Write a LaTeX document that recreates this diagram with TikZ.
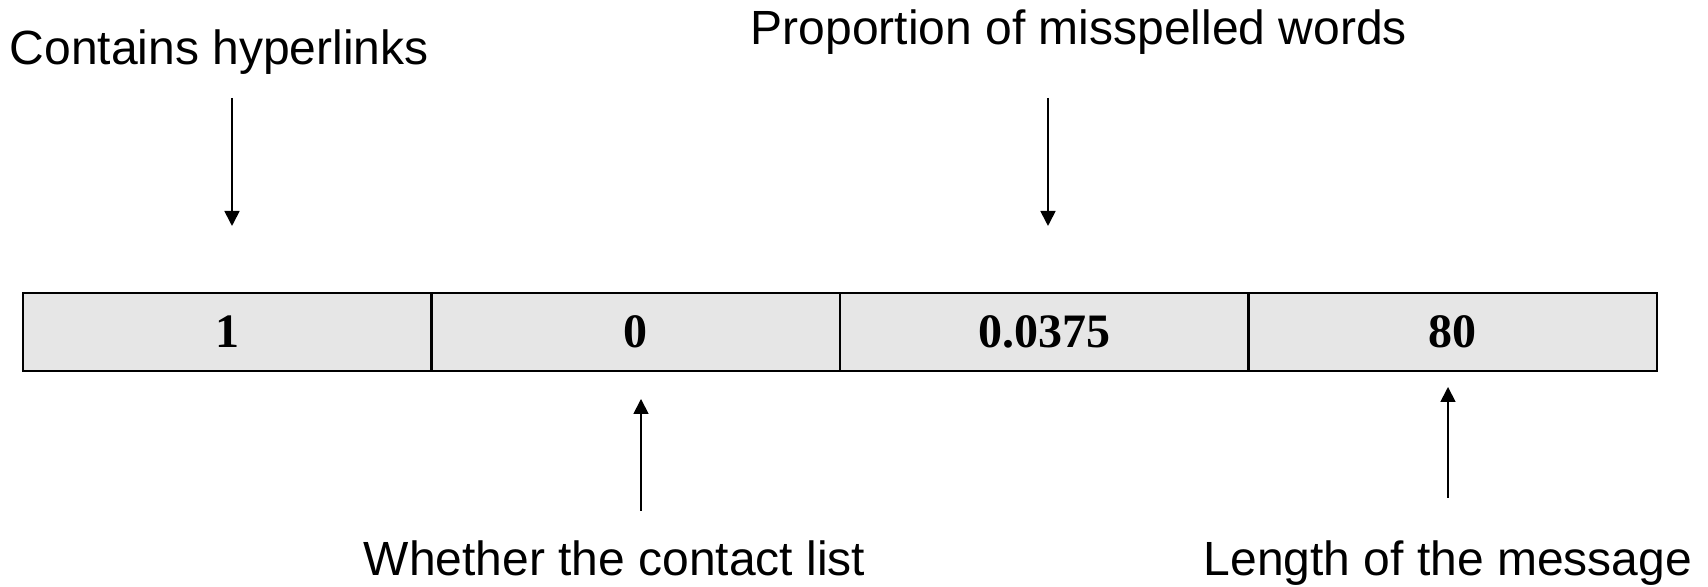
\documentclass[tikz,border=0pt]{standalone}
\usepackage{fontspec}
\setmainfont{Liberation Serif}
\setsansfont{Liberation Sans}
\usetikzlibrary{arrows.meta,positioning}
\definecolor{cellgray}{HTML}{E6E6E6}

\begin{document}
\begin{tikzpicture}[
   cell/.style={draw,line width=0.75pt,fill=cellgray,minimum width=4.085cm,minimum height=0.78cm,
     inner sep=0pt,outer sep=0pt,font=\bfseries\fontsize{13.66}{16}\selectfont},
   lbl/.style={inner sep=0pt,anchor=base west,font=\sffamily\fontsize{13.66}{16}\selectfont},
   feat/.style={line width=0.5pt,-{Triangle[length=0.15cm,width=0.15cm]}}]
   \useasboundingbox (0,0) rectangle (17.08,5.87);
   % the four cells
   \node[cell] (c1) at (2.2725,2.55) {1};
   \node[cell,right=0pt of c1] (c2) {0};
   \node[cell,right=0pt of c2] (c3) {0.0375};
   \node[cell,right=0pt of c3] (c4) {80};
   % labels
   \node[lbl] (hyp) at (0.09,5.22) {Contains hyperlinks};
   \node[lbl] (prop) at (7.50,5.42) {Proportion of misspelled words};
   \node[lbl] (cont) at (3.63,0.11) {Whether the contact list};
   \node[lbl] (len) at (12.03,0.11) {Length of the message};
   % arrow ends
   \coordinate (hyp-a) at (2.32,4.89);
   \coordinate (hyp-b) at (2.32,3.61);
   \coordinate (prop-a) at (10.48,4.89);
   \coordinate (prop-b) at (10.48,3.61);
   \coordinate (cont-a) at (6.41,0.76);
   \coordinate (cont-b) at (6.41,1.88);
   \coordinate (len-a) at (14.48,0.89);
   \coordinate (len-b) at (14.48,2.00);
   \draw[feat] (hyp-a) -- (hyp-b);
   \draw[feat] (prop-a) -- (prop-b);
   \draw[feat] (cont-a) -- (cont-b);
   \draw[feat] (len-a) -- (len-b);
\end{tikzpicture}
\end{document}
